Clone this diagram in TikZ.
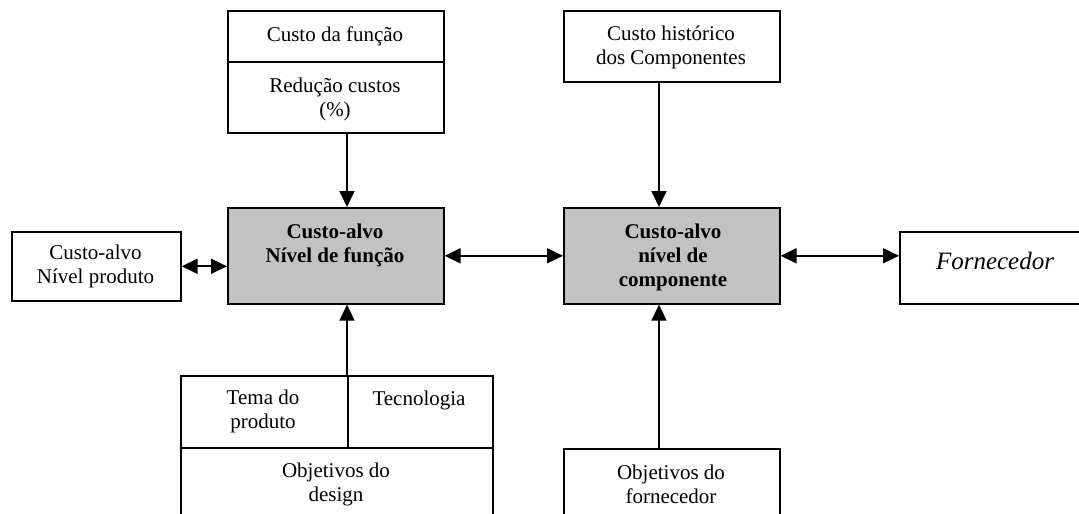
\documentclass[tikz,border=0pt]{standalone}
\usepackage{fontspec}
\setmainfont{Liberation Serif}
\usetikzlibrary{arrows.meta}
\begin{document}
\begin{tikzpicture}[x=1pt,y=-1pt,
  box/.style={draw=black,line width=1.6pt,fill=white,inner sep=0pt,anchor=north west},
  grey/.style={box,fill=black!24},
  txt/.style={align=center,inner sep=0pt,font=\fontsize{21}{24}\selectfont},
  btxt/.style={txt,font=\fontsize{21}{24}\selectfont\bfseries},
  arr/.style={line width=1.7pt,-{Triangle[length=16pt,width=15pt]}},
  darr/.style={line width=1.7pt,{Triangle[length=16pt,width=15pt]}-{Triangle[length=16pt,width=15pt]}}]
\clip (0,0) rectangle (1079,514);
\fill[white] (0,0) rectangle (1079,514);
% top left
\node[box,minimum width=216pt,minimum height=51pt] (cf) at (227,10) {};
\node[box,minimum width=216pt,minimum height=71pt] (rc) at (227,61) {};
\node[txt] (tcf) at (335,36) {Custo da função};
\node[txt] (trc) at (335,99) {Redução custos\\(\%)};
% top right
\node[box,minimum width=216pt,minimum height=71pt] (ch) at (563,10) {};
\node[txt] (tch) at (671,47) {Custo histórico\\dos Componentes};
% middle
\node[box,minimum width=169pt,minimum height=69pt] (lb) at (11,231) {};
\node[txt] (tlb) at (95.5,266) {Custo-alvo\\Nível produto};
\node[grey,minimum width=216pt,minimum height=96pt] (g1) at (227,207) {};
\node[btxt] (tg1) at (335,245) {Custo-alvo\\Nível de função};
\node[grey,minimum width=216pt,minimum height=96pt] (g2) at (563,207) {};
\node[btxt] (tg2) at (673,257) {Custo-alvo\\nível de\\componente};
\node[box,minimum width=195pt,minimum height=72pt] (fo) at (899,231) {};
\node[txt,font=\fontsize{25}{28}\selectfont\itshape] (tfo) at (995,261) {Fornecedor};
% bottom left
\node[box,minimum width=167pt,minimum height=72pt] (tema) at (180,375) {};
\node[box,minimum width=145pt,minimum height=72pt] (tec) at (347,375) {};
\node[box,minimum width=312pt,minimum height=90pt] (od) at (180,447) {};
\node[txt] (ttema) at (263,411) {Tema do\\produto};
\node[txt] (ttec) at (419,400) {Tecnologia};
\node[txt] (tod) at (336,484) {Objetivos do\\design};
% bottom right
\node[box,minimum width=216pt,minimum height=90pt] (of) at (563,448) {};
\node[txt] (tof) at (671,484) {Objetivos do\\fornecedor};
% arrows
\coordinate (ax1) at (347,0);
\coordinate (ax2) at (659,0);
\draw[arr] (rc.south -| ax1) -- (g1.north -| ax1);
\draw[arr] (ch.south -| ax2) -- (g2.north -| ax2);
\draw[arr] (tema.north -| ax1) -- (g1.south -| ax1);
\draw[arr] (of.north -| ax2) -- (g2.south -| ax2);
\draw[darr] (lb.east) -- (g1.west |- lb.east);
\draw[darr] (g1.east) -- (g2.west);
\draw[darr] (g2.east) -- (fo.west |- g2.east);
\end{tikzpicture}
\end{document}
